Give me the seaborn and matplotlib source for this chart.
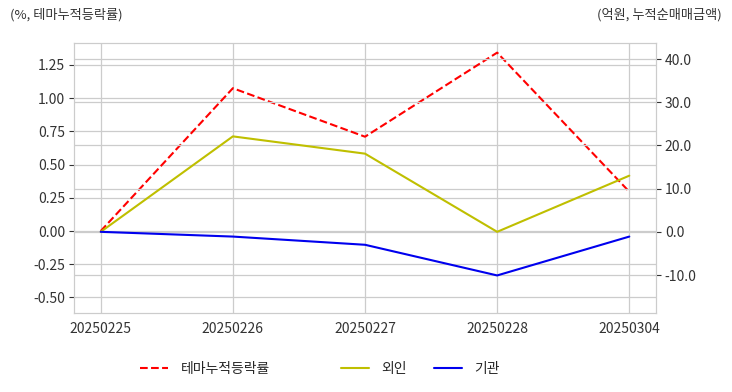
import pandas as pd
import seaborn as sns
import matplotlib.pyplot as plt

# data
dates = ['20250225', '20250226', '20250227', '20250228', '20250304']
theme_rate = [0.0, 1.075, 0.71, 1.343, 0.296]      # %, left axis
foreign = [0.0, 22.1, 18.1, 0.0, 13.0]             # 억원, right axis
institution = [0.0, -1.1, -3.0, -10.1, -1.1]       # 억원, right axis

df = pd.DataFrame({'date': dates, 'theme': theme_rate,
                   'foreign': foreign, 'inst': institution})

sns.set_style('whitegrid')
plt.rcParams['font.family'] = ['Noto Sans CJK KR', 'DejaVu Sans']
plt.rcParams['axes.unicode_minus'] = False

fig = plt.figure(figsize=(7.32, 3.92), dpi=100)
ax = fig.add_axes([0.1015, 0.2015, 0.7943, 0.688])
ax2 = ax.twinx()

sns.lineplot(data=df, x='date', y='theme', ax=ax, color='red',
             linestyle='--', linewidth=1.5, label='테마누적등락률')
sns.lineplot(data=df, x='date', y='foreign', ax=ax2, color='#bfbf00',
             linewidth=1.5, label='외인')
sns.lineplot(data=df, x='date', y='inst', ax=ax2, color='#0000ee',
             linewidth=1.5, label='기관')

ax.set_xlim(-0.2, 4.2)
ax.set_ylim(-0.617, 1.413)
ax.set_yticks([-0.5, -0.25, 0, 0.25, 0.5, 0.75, 1.0, 1.25])
ax.set_yticklabels(['-0.50', '-0.25', '0.00', '0.25', '0.50', '0.75', '1.00', '1.25'])
ax2.set_ylim(-18.8, 43.65)
ax2.set_yticks([-10, 0, 10, 20, 30, 40])
ax2.set_yticklabels(['-10.0', '0.0', '10.0', '20.0', '30.0', '40.0'])

for a in (ax, ax2):
    a.set_xlabel('')
    a.set_ylabel('')
    a.tick_params(labelsize=10, colors='#333333', pad=3)
    for s in a.spines.values():
        s.set_color('#cccccc')
    a.grid(True, color='#cccccc', linewidth=0.9)

h1, l1 = ax.get_legend_handles_labels()
h2, l2 = ax2.get_legend_handles_labels()
ax.get_legend().remove()
ax2.get_legend().remove()

fig.legend(h1, l1, loc='center left', bbox_to_anchor=(0.1745, 0.0587),
           frameon=False, fontsize=10, handletextpad=0.9)
fig.legend(h2, l2, loc='center left', bbox_to_anchor=(0.4485, 0.0587),
           frameon=False, fontsize=10, ncol=2, handletextpad=0.9, columnspacing=2.0)

fig.text(10 / 732, 1 - 15 / 392, '(%, 테마누적등락률)', fontsize=9.5,
         color='#333333', va='center', ha='left')
fig.text(722 / 732, 1 - 15 / 392, '(억원, 누적순매매금액)', fontsize=9.5,
         color='#333333', va='center', ha='right')

fig.savefig('out.png', dpi=100)
